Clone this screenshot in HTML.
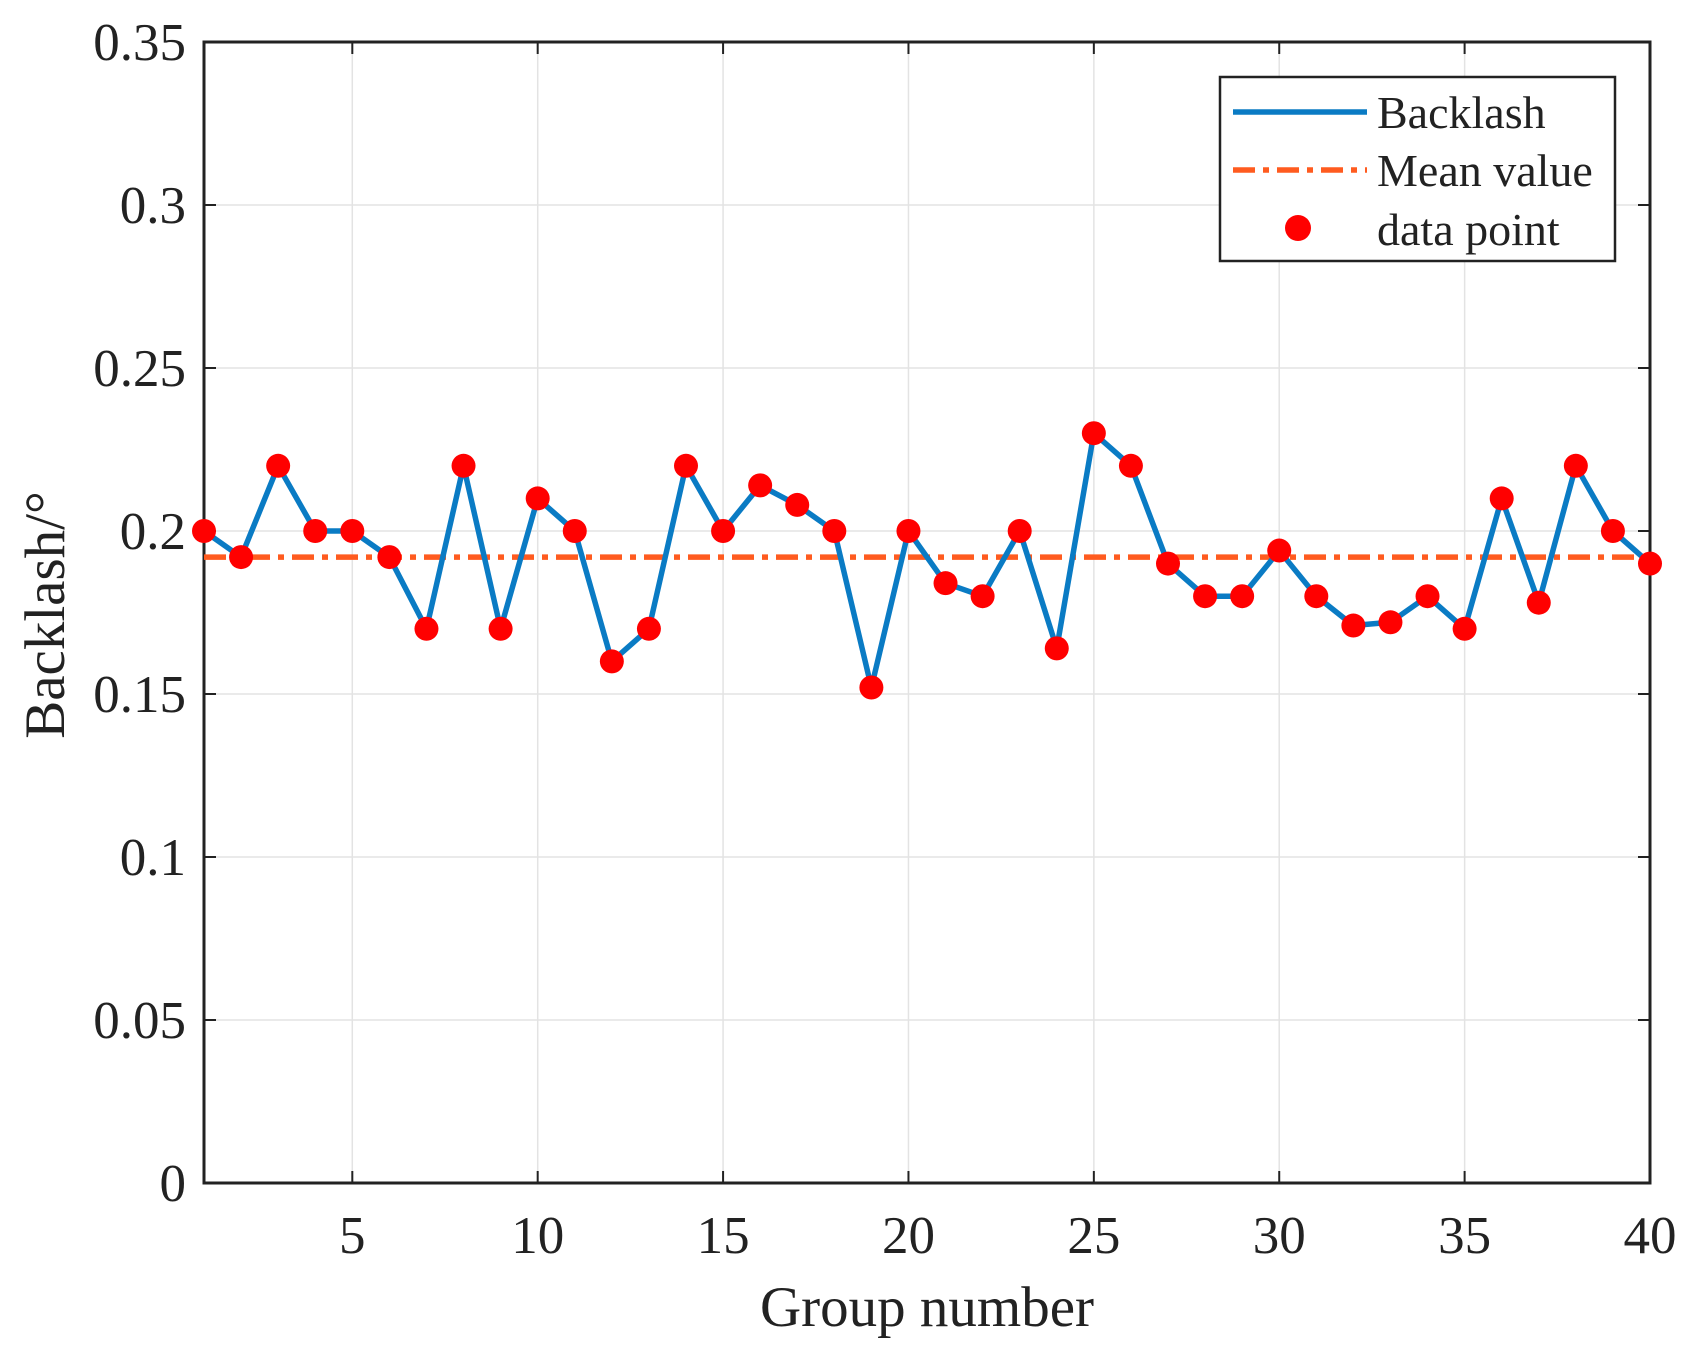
<!DOCTYPE html>
<html><head><meta charset="utf-8"><style>html,body{margin:0;padding:0;background:#fff}svg{display:block}</style></head>
<body>
<svg id="s" width="1691" height="1358" xmlns="http://www.w3.org/2000/svg" font-family="Liberation Serif, serif" fill="#222"></svg>
<script>
const d=[0.20,0.192,0.22,0.20,0.20,0.192,0.17,0.22,0.17,0.21,0.20,0.16,0.17,0.22,0.20,0.214,0.208,0.20,0.152,0.20,0.184,0.18,0.20,0.164,0.23,0.22,0.19,0.18,0.18,0.194,0.18,0.171,0.172,0.18,0.17,0.21,0.178,0.22,0.20,0.19];
const L=204,R=1650,T=42,B=1183;
const X=i=>L+(i-1)*(R-L)/39, Y=v=>B-v*(B-T)/0.35;
let h='';
for(let k=0;k<=7;k++){const y=Y(k*0.05);h+=`<line x1="${L}" x2="${R}" y1="${y}" y2="${y}" stroke="#e3e3e3" stroke-width="1.5"/>`;
h+=`<text x="${L-18}" y="${y+18}" font-size="53" text-anchor="end">${k==0?'0':(k*0.05).toFixed(k%2?2:1).replace(/0+$/,'')}</text>`;
h+=`<line x1="${L}" x2="${L+12}" y1="${y}" y2="${y}" stroke="#222" stroke-width="2"/><line x1="${R-12}" x2="${R}" y1="${y}" y2="${y}" stroke="#222" stroke-width="2"/>`;}
for(let t=5;t<=40;t+=5){const x=X(t);h+=`<line x1="${x}" x2="${x}" y1="${T}" y2="${B}" stroke="#e3e3e3" stroke-width="1.5"/>`;
h+=`<text x="${x}" y="1253" font-size="53" text-anchor="middle">${t}</text>`;
h+=`<line x1="${x}" x2="${x}" y1="${B-12}" y2="${B}" stroke="#222" stroke-width="2"/><line x1="${x}" x2="${x}" y1="${T}" y2="${T+12}" stroke="#222" stroke-width="2"/>`;}
h+=`<rect x="${L}" y="${T}" width="${R-L}" height="${B-T}" fill="none" stroke="#222" stroke-width="3"/>`;
const ym=Y(0.192);
h+=`<line x1="${L}" x2="${R}" y1="${ym}" y2="${ym}" stroke="#FF5B1F" stroke-width="5.5" stroke-dasharray="22,8,6,8"/>`;
h+=`<polyline fill="none" stroke="#0A7BC4" stroke-width="5.5" stroke-linejoin="round" points="${d.map((v,i)=>X(i+1)+','+Y(v)).join(' ')}"/>`;
d.forEach((v,i)=>h+=`<circle cx="${X(i+1)}" cy="${Y(v)}" r="12" fill="#F00"/>`);
h+=`<rect x="1220" y="77" width="395" height="184" fill="#fff" stroke="#222" stroke-width="2.5"/>`;
h+=`<line x1="1233" x2="1367" y1="112" y2="112" stroke="#0A7BC4" stroke-width="5.5"/>`;
h+=`<line x1="1233" x2="1367" y1="170" y2="170" stroke="#FF5B1F" stroke-width="5.5" stroke-dasharray="22,8,6,8"/>`;
h+=`<circle cx="1298" cy="228" r="13" fill="#F00"/>`;
h+=`<text x="1377" y="128" font-size="46">Backlash</text><text x="1377" y="186" font-size="46">Mean value</text><text x="1377" y="245" font-size="46">data point</text>`;
h+=`<text x="927" y="1326" font-size="57" text-anchor="middle">Group number</text>`;
h+=`<text transform="translate(64,615) rotate(-90)" font-size="57" text-anchor="middle">Backlash/°</text>`;
document.getElementById('s').innerHTML=h;
</script>
</body></html>
